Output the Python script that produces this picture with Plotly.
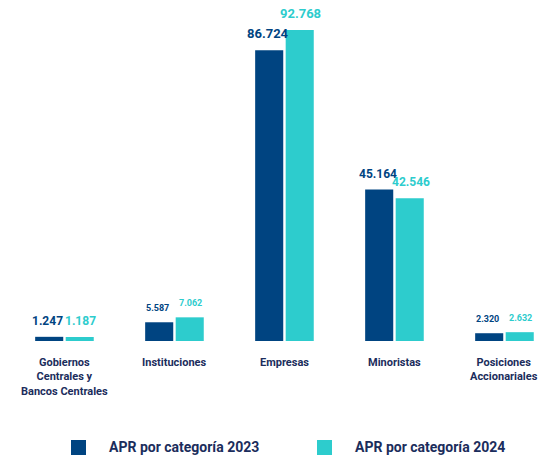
import plotly.graph_objects as go

categories = ["Gobiernos<br>Centrales y<br>Bancos Centrales", "Instituciones", "Empresas",
              "Minoristas", "Posiciones<br>Accionariales"]
apr_2023 = [1.247, 5.587, 86.724, 45.164, 2.320]
apr_2024 = [1.187, 7.062, 92.768, 42.546, 2.632]
label_sizes = [12, 9, 13, 12, 9]
series_names = ["APR por categoría 2023", "APR por categoría 2024"]

NAVY = "#004481"
AQUA = "#2dcccd"
TEXT = "#1b2d5c"
FONT = "Roboto"

W, H = 539, 456
BASE = 341  # pixel row of the bar baseline


def fmt(v):
    return f"{v:.3f}"


keys = list(range(len(categories)))
fig = go.Figure()
fig.add_bar(x=keys, y=apr_2023, name=series_names[0], marker_color=NAVY,
            marker_line_width=0, showlegend=False)
fig.add_bar(x=keys, y=apr_2024, name=series_names[1], marker_color=AQUA,
            marker_line_width=0, showlegend=False)

annotations = []
# value labels above each bar
for i, (a, b) in enumerate(zip(apr_2023, apr_2024)):
    for val, shift, col in ((a, -16.5, NAVY), (b, 16.5, AQUA)):
        annotations.append(dict(
            x=i, y=val, xref="x", yref="y", text=fmt(val), showarrow=False,
            xshift=shift, yshift=7, yanchor="bottom", xanchor="center",
            font=dict(family=FONT, size=label_sizes[i], color=col, weight=700)))
# category labels under the baseline
for i, c in enumerate(categories):
    annotations.append(dict(
        x=i, y=0, xref="x", yref="y", text=c, showarrow=False, yanchor="top",
        yshift=-13, align="center",
        font=dict(family=FONT, size=11, color=TEXT, weight=700)))

# legend: swatches and names, placed in the bottom margin
shapes = []
legend_items = [(series_names[0], NAVY, 71), (series_names[1], AQUA, 317)]
for name, col, x0 in legend_items:
    shapes.append(dict(type="rect", xref="paper", yref="paper",
                       x0=x0 / W, x1=(x0 + 15) / W,
                       y0=(BASE - 455) / BASE, y1=(BASE - 440) / BASE,
                       fillcolor=col, line_width=0))
    annotations.append(dict(
        x=(x0 + 36) / W, y=(BASE - 447) / BASE, xref="paper", yref="paper",
        text=name, showarrow=False, xanchor="left", yanchor="middle",
        font=dict(family=FONT, size=14, color=TEXT, weight=700)))

fig.update_layout(
    width=W, height=H,
    margin=dict(l=0, r=0, t=0, b=H - BASE),
    paper_bgcolor="white", plot_bgcolor="white",
    barmode="group", bargap=0.445, bargroupgap=0.08,
    xaxis=dict(range=[-0.586, 4.314], showticklabels=False, showgrid=False,
               zeroline=False, showline=False, tickmode="array", tickvals=keys),
    yaxis=dict(range=[0, 101.72], visible=False, showgrid=False, zeroline=False),
    annotations=annotations, shapes=shapes,
)

fig.write_html("out.html")
